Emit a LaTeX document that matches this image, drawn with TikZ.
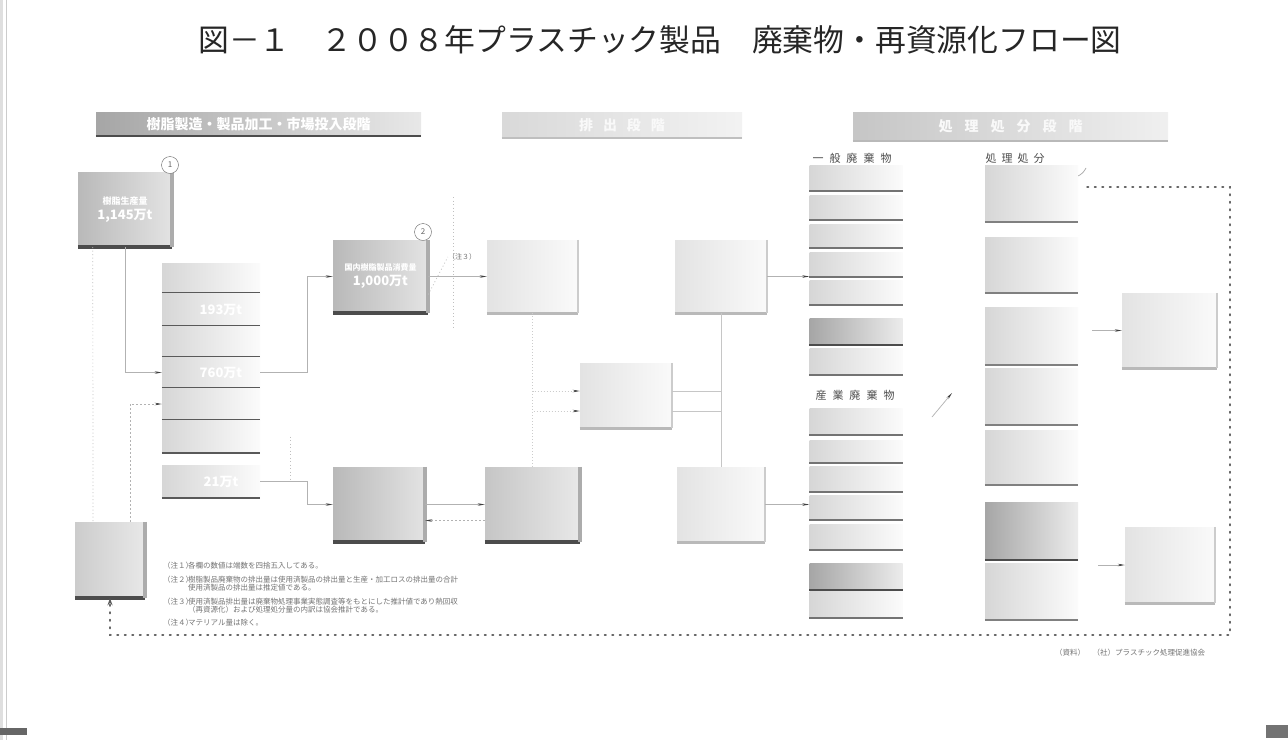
\documentclass[tikz,border=0pt]{standalone}
\usepackage{fontspec}
\setmainfont{Noto Sans CJK JP}
\usetikzlibrary{arrows.meta,calc}
\begin{document}
\begin{tikzpicture}[x=1pt,y=-1pt,
  mbox/.style={left color=gray!55,right color=gray!22,inner sep=0pt,align=center,text=white,font=\bfseries\fontsize{13}{15}\selectfont},
  lbox/.style={left color=gray!22,right color=gray!4,inner sep=0pt,align=center},
  rowbox/.style={left color=gray!32,right color=gray!3,inner sep=0pt,minimum width=93pt,align=center,text=white,font=\bfseries\fontsize{13}{14}\selectfont},
  darkrow/.style={left color=gray!70,right color=gray!15,inner sep=0pt,minimum width=93pt},
  hbar/.style={left color=gray!60,right color=gray!18,inner sep=0pt,text=white,font=\bfseries\fontsize{14}{15}\selectfont},
  circ/.style={circle,draw=black!60,fill=white,inner sep=0pt,minimum size=17pt,font=\fontsize{8}{8}\selectfont,text=black!60},
  conn/.style={draw=gray!60,line width=0.7pt,-{Stealth[length=7pt,width=2.5pt,color=black!75]}},
  plain/.style={draw=gray!45,line width=0.6pt},
  dotg/.style={draw=gray!50,line width=0.7pt,dash pattern=on 1pt off 2.5pt},
  dotloop/.style={draw=black!60,line width=1.5pt,dash pattern=on 1.5pt off 6pt,line cap=round},
  note/.style={anchor=west,inner sep=0pt,text=black!55,font=\fontsize{7.5}{8}\selectfont},
  clabel/.style={inner sep=0pt,text=black!70,font=\fontsize{11}{12}\selectfont}]
\useasboundingbox (0,0) rectangle (1288,740);
\fill[white] (0,0) rectangle (1288,740);
\fill[gray!25] (0,0) rectangle (3,740);
\draw[gray!40,line width=0.8pt] (6,0) -- (6,740);

% title
\node[inner sep=0pt,font=\fontsize{30.8}{32}\selectfont,text=black!85] (title) at (660,40) {図－１　２００８年プラスチック製品　廃棄物・再資源化フロー図};

% header bars
\node[hbar,left color=gray!70,minimum width=325pt,minimum height=24pt] (hb1) at (258.5,124) {樹脂製造・製品加工・市場投入段階};
\node[hbar,left color=gray!30,right color=gray!10,minimum width=240pt,minimum height=26pt,text=gray!5] (hb2) at (622,125) {排\hspace{10pt}出\hspace{10pt}段\hspace{10pt}階};
\node[hbar,left color=gray!45,right color=gray!12,minimum width=315pt,minimum height=29pt,text=gray!5] (hb3) at (1010.5,126.5) {処\hspace{12pt}理\hspace{12pt}処\hspace{12pt}分\hspace{12pt}段\hspace{12pt}階};
\foreach \n/\c in {hb1/black!70,hb2/gray!50,hb3/gray!55}{
  \draw[line width=2.5pt,\c] (\n.south west) -- (\n.south east);}

% main 3D boxes
\node[mbox,minimum width=94pt,minimum height=75pt] (b1) at (125,209.5) {{\fontsize{9}{10}\selectfont 樹脂生産量}\\1,145万t};
\node[mbox,minimum width=95pt,minimum height=73pt] (b2) at (380.5,276.5) {{\fontsize{8}{10}\selectfont 国内樹脂製品消費量}\\1,000万t};
\node[mbox,minimum width=92pt,minimum height=75pt] (b4) at (379,504.5) {};
\node[mbox,left color=gray!45,right color=gray!18,minimum width=95pt,minimum height=75pt] (b5) at (532.5,504.5) {};
\node[mbox,left color=gray!40,right color=gray!18,minimum width=70pt,minimum height=76pt] (bl) at (110,560) {};
\foreach \n in {b1,b2,b4,b5,bl}{
  \draw[line width=4pt,black!70] (\n.south west) -- (\n.south east);
  \draw[line width=3.5pt,gray!65] (\n.north east) -- (\n.south east);}

% light boxes
\node[lbox,minimum width=91pt,minimum height=73pt] (b3) at (532.5,276.5) {};
\node[lbox,minimum width=92pt,minimum height=73pt] (b6) at (721,276.5) {};
\node[lbox,minimum width=92pt,minimum height=65pt] (b7) at (626,395.5) {};
\node[lbox,minimum width=88pt,minimum height=75pt] (b8) at (721,504.5) {};
\node[lbox,minimum width=95pt,minimum height=75pt] (A) at (1169.5,330.5) {};
\node[lbox,minimum width=90pt,minimum height=76pt] (B) at (1170,565) {};
\foreach \n in {b3,b6,b7,b8,A,B}{
  \draw[line width=3pt,gray!55] (\n.south west) -- (\n.south east);
  \draw[line width=2pt,gray!40] (\n.north east) -- (\n.south east);}

% circles
\node[circ] (c1) at (170,165) {1};
\node[circ] (c2) at (423,232) {2};
\draw[gray!70,line width=0.7pt] (1064,176) to[bend right=45] (1086,168);

% left stack
\foreach \i/\t/\b/\txt in {1/263/293/,2/293/326/193万t,3/326/357/,4/357/388/760万t,5/388/420/,6/420/453/,7/465/498/21万t}{
  \pgfmathsetmacro\h{\b-\t}
  \pgfmathsetmacro\c{(\t+\b)/2}
  \node[rowbox,minimum width=98pt,minimum height=\h pt] (s\i) at (211,\c) {\hspace{20pt}\txt};
  \draw[line width=1.8pt,black!65] (s\i.south west) -- (s\i.south east);}

% general waste column
\node[clabel] (lg) at (852,158) {一\hspace{6pt}般\hspace{6pt}廃\hspace{6pt}棄\hspace{6pt}物};
\foreach \i/\t/\b in {1/165/191,2/195/220,3/224/248,4/252/277,5/280/305,7/348/375}{
  \pgfmathsetmacro\h{\b-\t}
  \pgfmathsetmacro\c{(\t+\b)/2}
  \node[rowbox,minimum height=\h pt] (g\i) at (856,\c) {};
  \draw[line width=1.5pt,black!55] (g\i.south west) -- (g\i.south east);}
\node[darkrow,minimum height=27pt] (g6) at (856,331.5) {};
\draw[line width=1.8pt,black!70] (g6.south west) -- (g6.south east);

% industrial waste column
\node[clabel] (li) at (855,395) {産\hspace{6pt}業\hspace{6pt}廃\hspace{6pt}棄\hspace{6pt}物};
\foreach \i/\t/\b in {1/408/435,2/440/463,3/466/492,4/495/520,5/524/550,7/591/618}{
  \pgfmathsetmacro\h{\b-\t}
  \pgfmathsetmacro\c{(\t+\b)/2}
  \node[rowbox,minimum height=\h pt] (i\i) at (856,\c) {};
  \draw[line width=1.5pt,black!55] (i\i.south west) -- (i\i.south east);}
\node[darkrow,minimum height=27pt] (i6) at (856,576.5) {};
\draw[line width=1.8pt,black!70] (i6.south west) -- (i6.south east);

% treatment column
\node[clabel] (lr) at (1015,158) {処\hspace{5pt}理\hspace{5pt}処\hspace{5pt}分};
\foreach \i/\t/\b in {1/165/222,2/237/293,3/307/365,4/368/425,5/430/485,7/563/620}{
  \pgfmathsetmacro\h{\b-\t}
  \pgfmathsetmacro\c{(\t+\b)/2}
  \node[rowbox,minimum height=\h pt] (r\i) at (1031.5,\c) {};
  \draw[line width=1.5pt,black!50] (r\i.south west) -- (r\i.south east);}
\node[darkrow,minimum height=58pt] (r6) at (1031.5,531) {};
\draw[line width=1.8pt,black!70] (r6.south west) -- (r6.south east);

% connectors
\draw[conn] (b1.south) |- (s4.west);
\draw[dotg] ([xshift=15pt]b1.south west) -- ([xshift=-17pt]bl.north);
\draw[conn,dash pattern=on 2pt off 2pt] ([xshift=20pt]bl.north) |- (s5.west);
\draw[conn] (s4.east) -- ++(47,0) |- (b2.west);
\draw[conn] (s7.east) -- ++(47,0) |- (b4.west);
\draw[dotg] ([xshift=30pt]s6.east) -- ([xshift=30pt]s7.east);
\draw[conn] (b2.east) -- (b3.west);
\draw[dotg] (453,197) -- (453,330);
\node[inner sep=0pt,font=\fontsize{7}{7}\selectfont,text=black!55] (n3) at (462,257) {（注３）};
\draw[dotg] ([yshift=-18pt]b2.east) -- (n3.west);
\draw[conn,draw=gray!40,dash pattern=on 1pt off 2pt] (b3.south) |- ([yshift=-15.5pt]b7.west);
\draw[conn,draw=gray!40,dash pattern=on 1pt off 2pt] (b5.north) |- ([yshift=4.5pt]b7.west);
\draw[plain] ([yshift=-15.5pt]b7.east) -| (b6.south);
\draw[plain] ([yshift=4.5pt]b7.east) -| (b8.north);
\draw[conn,dash pattern=on 2pt off 2pt] ([yshift=-16pt]b5.west) -- ([yshift=-16pt]b4.east);
\draw[conn] (b4.east) -- (b5.west);
\draw[conn] (b6.east) -- (b6.east -| g4.west);
\draw[conn] (b8.east) -- (b8.east -| i4.west);
\coordinate (dg1) at (932,417);
\coordinate (dg2) at (952,393);
\draw[conn] (dg1) -- (dg2);
\draw[conn] ([xshift=14pt]r3.east |- A.west) -- (A.west);
\draw[conn] ([xshift=20pt]r6.east |- B.west) -- (B.west);
\coordinate (ls) at (1087,187);
\draw[dotloop,-{Stealth[length=7pt,width=5pt,color=black!65]}] (ls) -| (1230,635) -| (bl.south);

% notes
\foreach \y/\p/\t in {566/（注１）/各欄の数値は端数を四捨五入してある。,
  580/（注２）/樹脂製品廃棄物の排出量は使用済製品の排出量と生産・加工ロスの排出量の合計,
  602/（注３）/使用済製品排出量は廃棄物処理事業実態調査等をもとにした推計値であり熱回収,
  623/（注４）/マテリアル量は除く。}{
  \node[note] at (163,\y) {\p};
  \node[note] at (188,\y) {\t};}
\node[note] at (188,588) {使用済製品の排出量は推定値である。};
\node[note] at (188,610) {（再資源化）および処理処分量の内訳は協会推計である。};
\node[note] at (1055,653) {（資料）　（社）プラスチック処理促進協会};

% scan marks
\fill[black!60] (0,728) rectangle (27,735);
\fill[black!55] (1266,725) rectangle (1288,738);
\end{tikzpicture}
\end{document}
